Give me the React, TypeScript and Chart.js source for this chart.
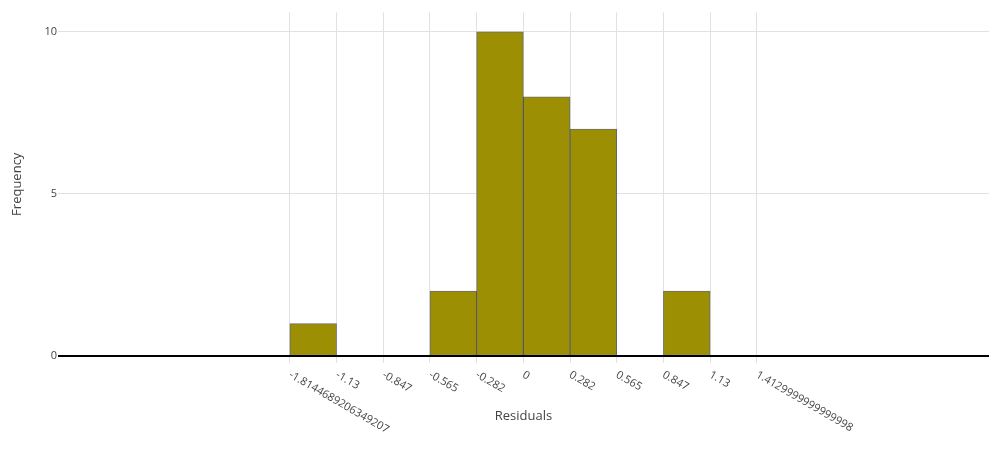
import React, { useEffect, useRef } from "react";
import { Chart, registerables } from "chart.js";

Chart.register(...registerables);

// Bin edges (tick positions) and their printed labels
const tickValues: number[] = [-1.4125, -1.13, -0.8475, -0.565, -0.2825, 0, 0.2825, 0.565, 0.8475, 1.13, 1.4125];
const tickLabels: string[] = [
  "-1.8144689206349207",
  "-1.13",
  "-0.847",
  "-0.565",
  "-0.282",
  "0",
  "0.282",
  "0.565",
  "0.847",
  "1.13",
  "1.4129999999999998",
];
// Frequency per bin (between consecutive edges)
const binCounts: number[] = [1, 0, 0, 2, 10, 8, 7, 0, 2, 0];
const yTicks: number[] = [0, 5, 10];

const xTitle = "Residuals";
const yTitle = "Frequency";

const FONT = '"Open Sans", "Noto Sans", sans-serif';
const TEXT = "#444";
const GRID = "#e1e1e1";

const overlayPlugin = {
  id: "overlayLabels",
  afterDatasetsDraw(chart: any) {
    const { ctx, chartArea, scales } = chart;
    const y = scales.y;
    const zy = Math.round(y.getPixelForValue(0));
    ctx.save();
    ctx.strokeStyle = "#000";
    ctx.lineWidth = 2;
    ctx.beginPath();
    ctx.moveTo(chartArea.left, zy);
    ctx.lineTo(chartArea.right, zy);
    ctx.stroke();
    ctx.restore();
  },
  afterDraw(chart: any) {
    const { ctx, chartArea, scales } = chart;
    const x = scales.x;
    ctx.save();
    ctx.fillStyle = TEXT;
    ctx.font = `11px ${FONT}`;
    ctx.textAlign = "left";
    ctx.textBaseline = "middle";
    tickValues.forEach((v, i) => {
      const px = x.getPixelForValue(v);
      ctx.save();
      ctx.translate(px, chartArea.bottom + 18);
      ctx.rotate(Math.PI / 6);
      ctx.fillText(tickLabels[i], 0, 0);
      ctx.restore();
    });
    ctx.font = `13px ${FONT}`;
    ctx.textAlign = "center";
    ctx.fillText(xTitle, (chartArea.left + chartArea.right) / 2, 416);
    ctx.save();
    ctx.translate(17.5, (chartArea.top + chartArea.bottom) / 2);
    ctx.rotate(-Math.PI / 2);
    ctx.fillText(yTitle, 0, 0);
    ctx.restore();
    ctx.restore();
  },
};

export default function App() {
  const ref = useRef<HTMLCanvasElement | null>(null);

  useEffect(() => {
    if (!ref.current) return;
    const data = binCounts.map((c, i) => ({
      x: (tickValues[i] + tickValues[i + 1]) / 2,
      y: c,
    }));
    const chart = new Chart(ref.current, {
      type: "bar",
      data: {
        datasets: [
          {
            data: data as any,
            backgroundColor: "#9c8f03",
            borderColor: "rgba(60,60,60,0.75)",
            borderWidth: 1,
            borderSkipped: false,
            barPercentage: 1,
            categoryPercentage: 1,
          },
        ],
      },
      plugins: [overlayPlugin],
      options: {
        responsive: false,
        animation: false,
        devicePixelRatio: 1,
        layout: { padding: { left: 0, top: 12.5, right: 11, bottom: 0 } },
        plugins: {
          legend: { display: false },
          tooltip: { enabled: false },
          title: { display: false },
        },
        scales: {
          x: {
            type: "linear",
            min: -2.815,
            max: 2.817,
            offset: false,
            afterBuildTicks: (s: any) => {
              s.ticks = tickValues.map((v) => ({ value: v }));
            },
            afterFit: (s: any) => {
              s.height = 100;
            },
            ticks: { display: false },
            grid: {
              offset: false,
              color: GRID,
              lineWidth: 1,
              drawTicks: true,
              tickLength: 7,
            },
            border: { display: false },
          },
          y: {
            type: "linear",
            min: 0,
            max: 10.6,
            afterBuildTicks: (s: any) => {
              s.ticks = yTicks.map((v) => ({ value: v }));
            },
            afterFit: (s: any) => {
              s.width = 58;
            },
            ticks: {
              padding: 1,
              color: TEXT,
              font: { family: FONT, size: 11 },
            },
            grid: {
              color: (c: any) => (c.tick && c.tick.value === 0 ? "rgba(0,0,0,0)" : GRID),
              lineWidth: 1,
              drawTicks: false,
            },
            border: { display: false },
          },
        },
      },
    });
    return () => chart.destroy();
  }, []);

  return (
    <div style={{ position: "absolute", left: 0, top: 0, width: 1000, height: 456, background: "#fff" }}>
      <canvas ref={ref} width={1000} height={456} />
    </div>
  );
}
